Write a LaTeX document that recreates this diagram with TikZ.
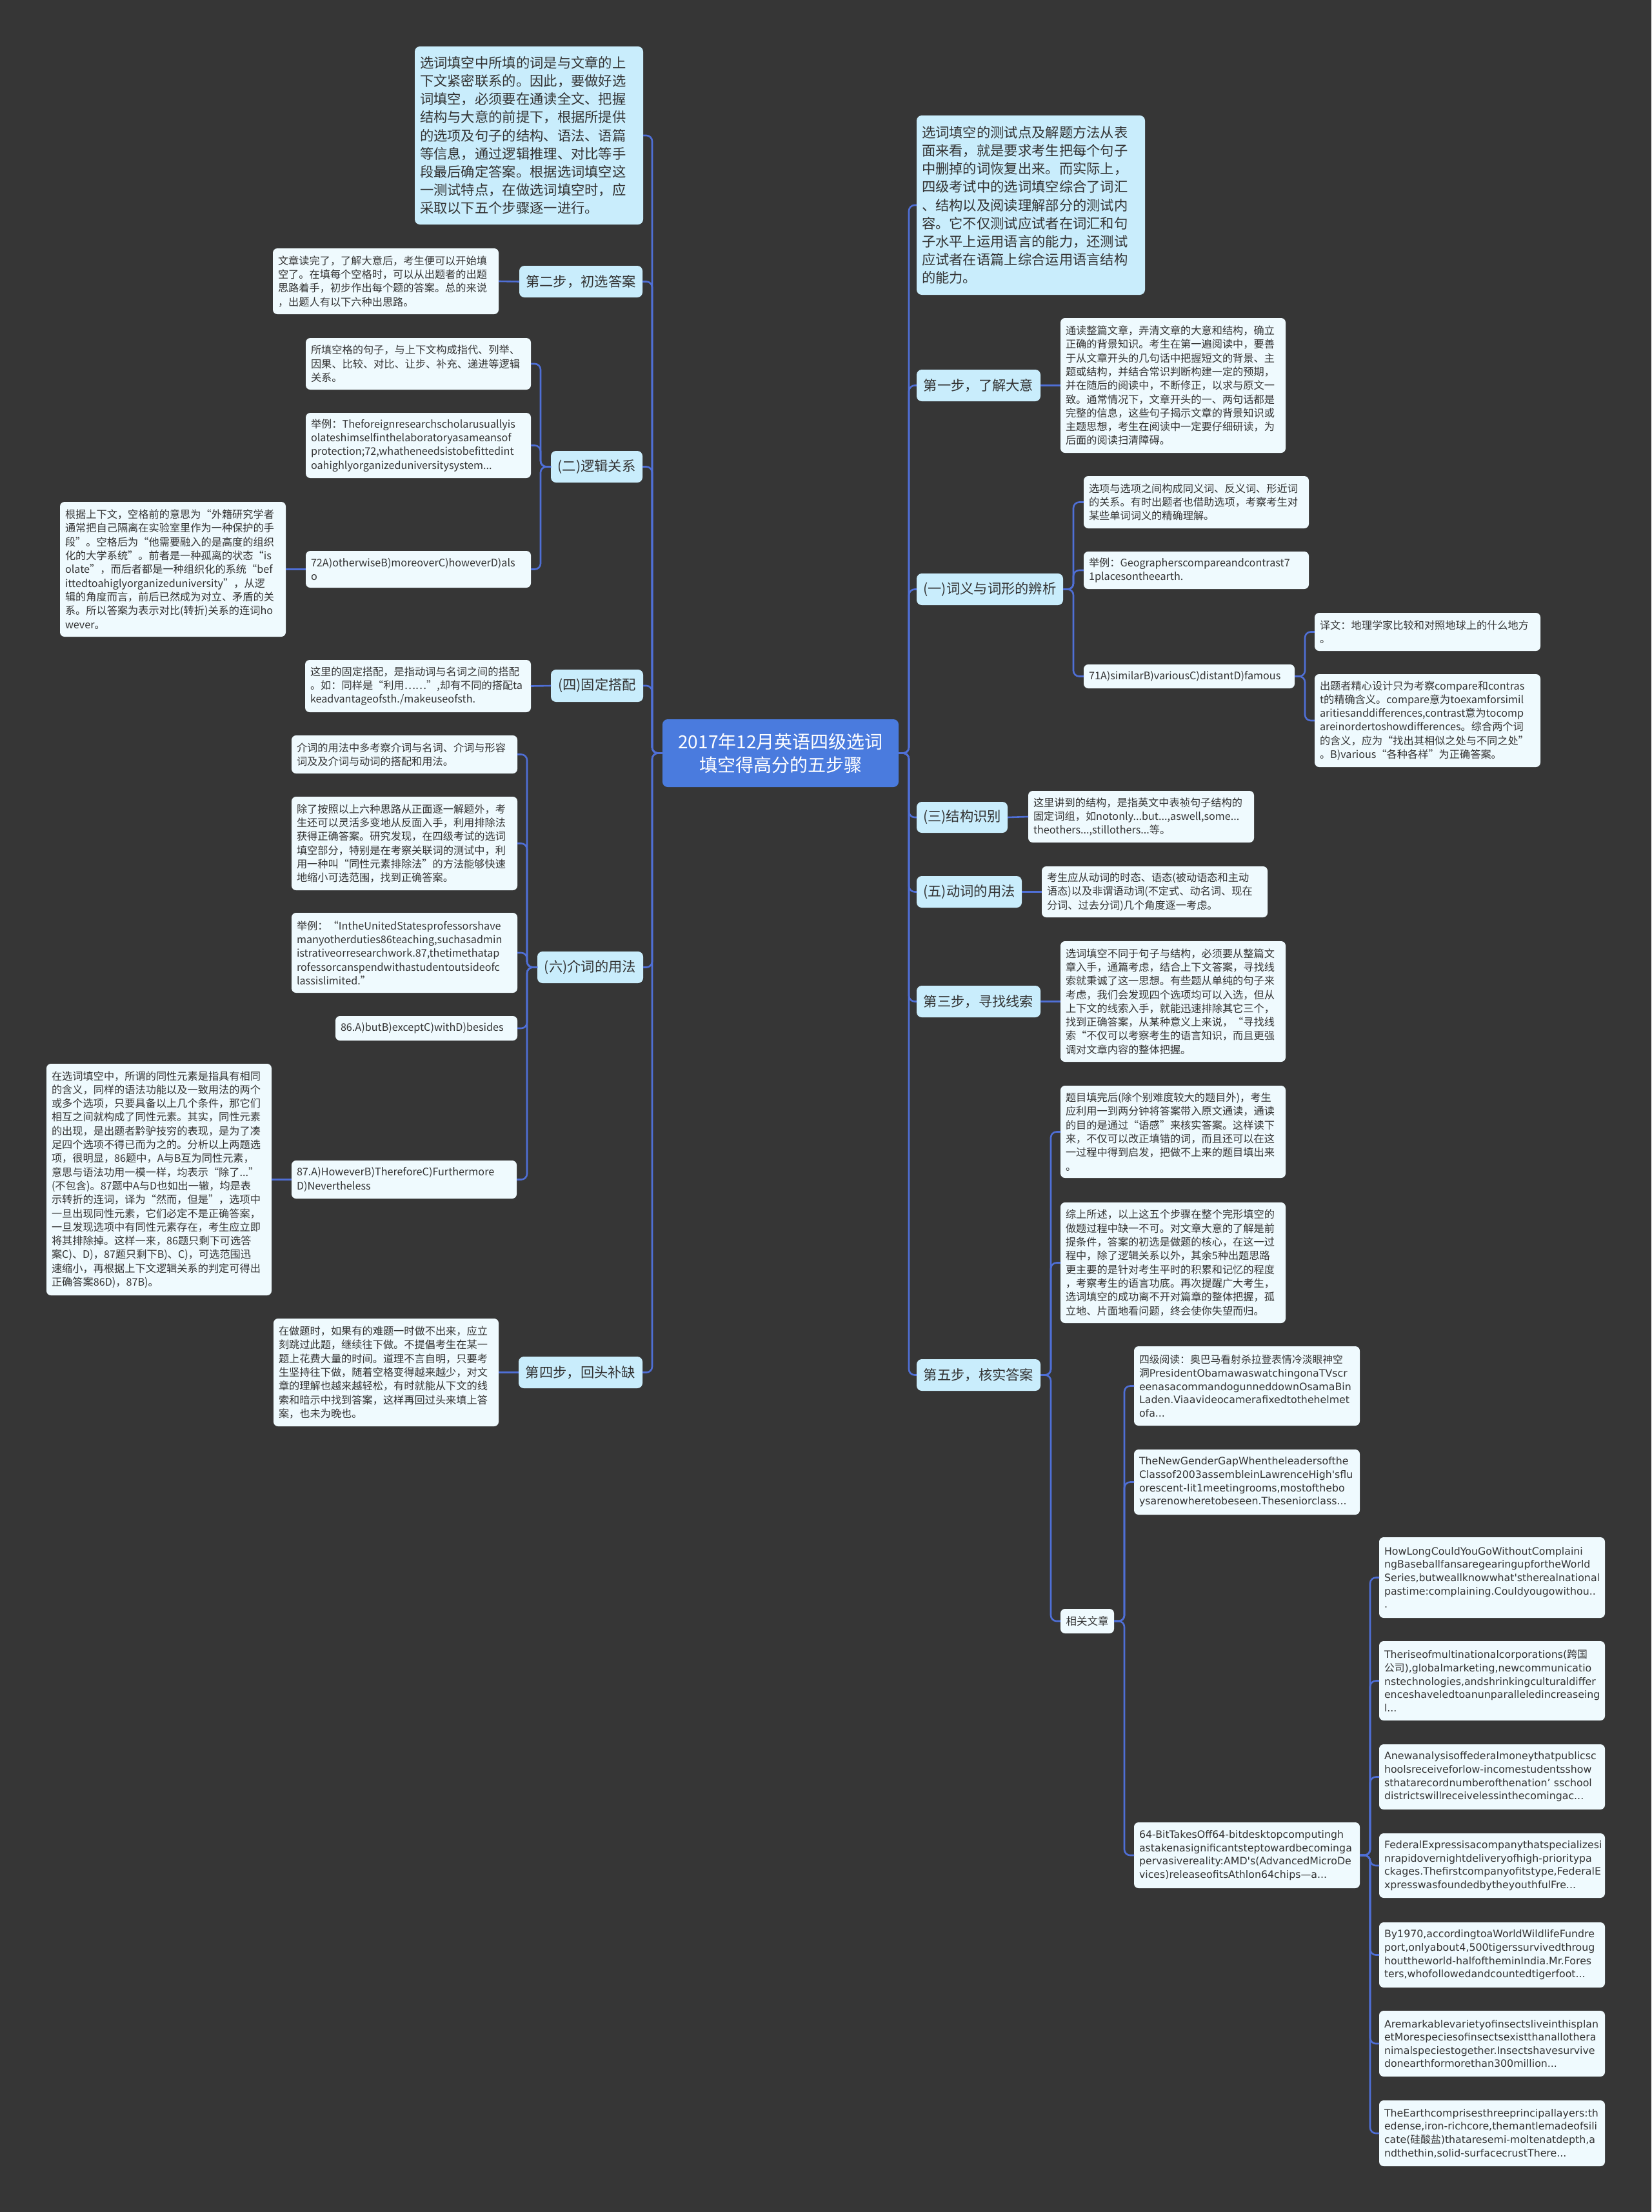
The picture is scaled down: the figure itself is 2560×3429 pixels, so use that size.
\documentclass[tikz,border=0pt]{standalone}
\usepackage{fontspec}
\setmainfont{Noto Sans CJK SC}
\newfontfamily\zh{Noto Sans CJK SC}
\newfontfamily\artf{DejaVu Sans}
\hyphenpenalty=10000 \exhyphenpenalty=10000
\definecolor{bgc}{HTML}{363636}
\definecolor{mainc}{HTML}{C9EDFC}
\definecolor{leafc}{HTML}{EFFAFE}
\definecolor{linec}{HTML}{4F6FD6}
\definecolor{rootc}{HTML}{4A7BDE}
\definecolor{txt}{HTML}{333333}
\newcommand\tb[7]{%
  \pgfmathsetlengthmacro\bxw{#5-#3-16}%
  \pgfmathsetlengthmacro\bxh{#6-#4}%
  \node[#2, text width=\bxw, minimum height=\bxh] (#1) at (#3,#4) {#7};}
\newcommand\cb[7]{%
  \pgfmathsetlengthmacro\bxw{#5-#3}%
  \pgfmathsetlengthmacro\bxh{#6-#4}%
  \node[#2, minimum width=\bxw, minimum height=\bxh] (#1) at (#3,#4) {#7};}
\begin{document}
\begin{tikzpicture}[x=1pt,y=-1pt,
  conn/.style={draw=linec, line width=2.6pt, rounded corners=9pt},
  base/.style={anchor=north west, outer sep=0pt, text=txt},
  mainbox/.style={base, fill=mainc, rounded corners=8pt, inner xsep=4pt, inner ysep=4pt, align=center, font=\fontsize{21.3}{26}\selectfont},
  bigbox/.style={base, fill=mainc, rounded corners=8pt, inner xsep=8pt, inner ysep=6pt, align=left, font=\fontsize{21.3}{28.2}\selectfont},
  leaf/.style={base, fill=leafc, rounded corners=7pt, inner xsep=8pt, inner ysep=5pt, align=left, font=\fontsize{16.2}{21.3}\selectfont},
  leafc/.style={base, fill=leafc, rounded corners=7pt, inner xsep=4pt, inner ysep=4pt, align=center, font=\fontsize{16.5}{21}\selectfont},
  art/.style={leaf, font=\artf\fontsize{15.8}{20.6}\selectfont},
  rootbox/.style={anchor=north west, outer sep=0pt, fill=rootc, rounded corners=8pt, text=white, align=center, font=\fontsize{28}{36}\selectfont}
]
\fill[bgc] (0,0) rectangle (2560,3429);
\useasboundingbox (0,0) rectangle (2560,3429);

% root
\cb{root}{rootbox}{1027}{1115}{1393}{1220}{2017年12月英语四级选词\\填空得高分的五步骤}

% ---------------- left side ----------------
\tb{L0}{bigbox}{643}{72}{997}{348}{选词填空中所填的词是与文章的上\\下文紧密联系的。因此，要做好选\\词填空，必须要在通读全文、把握\\结构与大意的前提下，根据所提供\\的选项及句子的结构、语法、语篇\\等信息，通过逻辑推理、对比等手\\段最后确定答案。根据选词填空这\\一测试特点，在做选词填空时，应\\采取以下五个步骤逐一进行。}

\cb{L1}{mainbox}{805}{412}{996}{461}{第二步，初选答案}
\tb{L1a}{leaf}{423}{385}{773}{487}{文章读完了，了解大意后，考生便可以开始填\\空了。在填每个空格时，可以从出题者的出题\\思路着手，初步作出每个题的答案。总的来说\\，出题人有以下六种出思路。}

\cb{L2}{mainbox}{854}{699}{996}{748}{(二)逻辑关系}
\tb{L2a}{leaf}{474}{524}{823}{604}{所填空格的句子，与上下文构成指代、列举、\\因果、比较、对比、让步、补充、递进等逻辑\\关系。}
\tb{L2b}{leaf}{474}{640}{823}{741}{举例：Theforeignresearchscholarusuallyis\\olateshimselfinthelaboratoryasameansof\\protection;72,whatheneedsistobefittedint\\oahighlyorganizeduniversitysystem...}
\tb{L2c}{leaf}{474}{854}{823}{911}{72A)otherwiseB)moreoverC)howeverD)als\\o}
\tb{L2c1}{leaf}{93}{778}{443}{987}{根据上下文，空格前的意思为“外籍研究学者\\通常把自己隔离在实验室里作为一种保护的手\\段”。空格后为“他需要融入的是高度的组织\\化的大学系统”。前者是一种孤离的状态“is\\olate”，而后者都是一种组织化的系统“bef\\ittedtoahiglyorganizeduniversity”，从逻\\辑的角度而言，前后已然成为对立、矛盾的关\\系。所以答案为表示对比(转折)关系的连词ho\\wever。}

\cb{L3}{mainbox}{854}{1038}{997}{1088}{(四)固定搭配}
\tb{L3a}{leaf}{473}{1023}{823}{1104}{这里的固定搭配，是指动词与名词之间的搭配\\。如：同样是“利用……”,却有不同的搭配ta\\keadvantageofsth./makeuseofsth.}

\cb{L4}{mainbox}{833}{1475}{997}{1524}{(六)介词的用法}
\tb{L4a}{leaf}{452}{1140}{802}{1199}{介词的用法中多考察介词与名词、介词与形容\\词及及介词与动词的搭配和用法。}
\tb{L4b}{leaf}{452}{1235}{802}{1380}{除了按照以上六种思路从正面逐一解题外，考\\生还可以灵活多变地从反面入手，利用排除法\\获得正确答案。研究发现，在四级考试的选词\\填空部分，特别是在考察关联词的测试中，利\\用一种叫“同性元素排除法”的方法能够快速\\地缩小可选范围，找到正确答案。}
\tb{L4c}{leaf}{452}{1415}{802}{1539}{举例：“IntheUnitedStatesprofessorshave\\manyotherduties86teaching,suchasadmin\\istrativeorresearchwork.87,thetimethatap\\rofessorcanspendwithastudentoutsideofc\\lassislimited.”}
\tb{L4d}{leaf}{520}{1575}{802}{1613}{86.A)butB)exceptC)withD)besides}
\tb{L4e}{leaf}{452}{1799}{801}{1858}{87.A)HoweverB)ThereforeC)Furthermore\\D)Nevertheless}
\tb{L4e1}{leaf}{72}{1649}{421}{2008}{在选词填空中，所谓的同性元素是指具有相同\\的含义，同样的语法功能以及一致用法的两个\\或多个选项，只要具备以上几个条件，那它们\\相互之间就构成了同性元素。其实，同性元素\\的出现，是出题者黔驴技穷的表现，是为了凑\\足四个选项不得已而为之的。分析以上两题选\\项，很明显，86题中，A与B互为同性元素，\\意思与语法功用一模一样，均表示“除了...”\\(不包含)。87题中A与D也如出一辙，均是表\\示转折的连词，译为“然而，但是”，选项中\\一旦出现同性元素，它们必定不是正确答案，\\一旦发现选项中有同性元素存在，考生应立即\\将其排除掉。这样一来，86题只剩下可选答\\案C)、D)，87题只剩下B)、C)，可选范围迅\\速缩小，再根据上下文逻辑关系的判定可得出\\正确答案86D)，87B)。}

\cb{L5}{mainbox}{804}{2103}{996}{2152}{第四步，回头补缺}
\tb{L5a}{leaf}{424}{2044}{773}{2211}{在做题时，如果有的难题一时做不出来，应立\\刻跳过此题，继续往下做。不提倡考生在某一\\题上花费大量的时间。道理不言自明，只要考\\生坚持往下做，随着空格变得越来越少，对文\\章的理解也越来越轻松，有时就能从下文的线\\索和暗示中找到答案，这样再回过头来填上答\\案，也未为晚也。}

% ---------------- right side ----------------
\tb{R0}{bigbox}{1421}{179}{1775}{457}{选词填空的测试点及解题方法从表\\面来看，就是要求考生把每个句子\\中删掉的词恢复出来。而实际上，\\四级考试中的选词填空综合了词汇\\、结构以及阅读理解部分的测试内\\容。它不仅测试应试者在词汇和句\\子水平上运用语言的能力，还测试\\应试者在语篇上综合运用语言结构\\的能力。}

\cb{R1}{mainbox}{1421}{573}{1613}{622}{第一步，了解大意}
\tb{R1a}{leaf}{1644}{493}{1993}{702}{通读整篇文章，弄清文章的大意和结构，确立\\正确的背景知识。考生在第一遍阅读中，要善\\于从文章开头的几句话中把握短文的背景、主\\题或结构，并结合常识判断构建一定的预期，\\并在随后的阅读中，不断修正，以求与原文一\\致。通常情况下，文章开头的一、两句话都是\\完整的信息，这些句子揭示文章的背景知识或\\主题思想，考生在阅读中一定要仔细研读，为\\后面的阅读扫清障碍。}

\cb{R2}{mainbox}{1421}{889}{1648}{938}{(一)词义与词形的辨析}
\tb{R2a}{leaf}{1680}{738}{2029}{819}{选项与选项之间构成同义词、反义词、形近词\\的关系。有时出题者也借助选项，考察考生对\\某些单词词义的精确理解。}
\tb{R2b}{leaf}{1680}{855}{2029}{913}{举例：Geographerscompareandcontrast7\\1placesontheearth.}
\tb{R2c}{leaf}{1680}{1030}{2007}{1067}{71A)similarB)variousC)distantD)famous}
\tb{R2c1}{leaf}{2038}{950}{2388}{1009}{译文：地理学家比较和对照地球上的什么地方\\。}
\tb{R2c2}{leaf}{2038}{1045}{2388}{1189}{出题者精心设计只为考察compare和contras\\t的精确含义。compare意为toexamforsimil\\aritiesanddifferences,contrast意为tocomp\\areinordertoshowdifferences。综合两个词\\的含义，应为“找出其相似之处与不同之处”\\。B)various“各种各样”为正确答案。}

\cb{R3}{mainbox}{1421}{1243}{1562}{1291}{(三)结构识别}
\tb{R3a}{leaf}{1594}{1226}{1944}{1306}{这里讲到的结构，是指英文中表祯句子结构的\\固定词组，如notonly...but...,aswell,some...\\theothers...,stillothers...等。}

\cb{R4}{mainbox}{1421}{1358}{1584}{1407}{(五)动词的用法}
\tb{R4a}{leaf}{1615}{1343}{1965}{1422}{考生应从动词的时态、语态(被动语态和主动\\语态)以及非谓语动词(不定式、动名词、现在\\分词、过去分词)几个角度逐一考虑。}

\cb{R5}{mainbox}{1421}{1528}{1613}{1577}{第三步，寻找线索}
\tb{R5a}{leaf}{1644}{1459}{1993}{1646}{选词填空不同于句子与结构，必须要从整篇文\\章入手，通篇考虑，结合上下文答案，寻找线\\索就秉诚了这一思想。有些题从单纯的句子来\\考虑，我们会发现四个选项均可以入选，但从\\上下文的线索入手，就能迅速排除其它三个，\\找到正确答案，从某种意义上来说，“寻找线\\索“不仅可以考察考生的语言知识，而且更强\\调对文章内容的整体把握。}

\cb{R6}{mainbox}{1421}{2107}{1613}{2156}{第五步，核实答案}
\tb{R6a}{leaf}{1644}{1683}{1993}{1826}{题目填完后(除个别难度较大的题目外)，考生\\应利用一到两分钟将答案带入原文通读，通读\\的目的是通过“语感”来核实答案。这样读下\\来，不仅可以改正填错的词，而且还可以在这\\一过程中得到启发，把做不上来的题目填出来\\。}
\tb{R6b}{leaf}{1644}{1864}{1993}{2051}{综上所述，以上这五个步骤在整个完形填空的\\做题过程中缺一不可。对文章大意的了解是前\\提条件，答案的初选是做题的核心，在这一过\\程中，除了逻辑关系以外，其余5种出题思路\\更主要的是针对考生平时的积累和记忆的程度\\，考察考生的语言功底。再次提醒广大考生，\\选词填空的成功离不开对篇章的整体把握，孤\\立地、片面地看问题，终会使你失望而归。}
\cb{R6c}{leafc}{1644}{2494}{1727}{2532}{相关文章}

\tb{A1}{art}{1758}{2087}{2108}{2210}{{\zh 四级阅读：奥巴马看射杀拉登表情冷淡眼神空}\\{\zh 洞}PresidentObamawaswatchingonaTVscr\\eenasacommandogunneddownOsamaBin\\Laden.Viaavideocamerafixedtothehelmet\\ofa...}
\tb{A2}{art}{1758}{2247}{2108}{2348}{TheNewGenderGapWhentheleadersofthe\\Classof2003assembleinLawrenceHigh'sflu\\orescent-lit1meetingrooms,mostofthebo\\ysarenowheretobeseen.Theseniorclass...}
\tb{A3}{art}{1758}{2825}{2108}{2927}{64-BitTakesOff64-bitdesktopcomputingh\\astakenasignificantsteptowardbecominga\\pervasivereality:AMD's(AdvancedMicroDe\\vices)releaseofitsAthlon64chips—a...}

\tb{B1}{art}{2138}{2383}{2488}{2508}{HowLongCouldYouGoWithoutComplaini\\ngBaseballfansaregearingupfortheWorld\\Series,butweallknowwhat'stherealnational\\pastime:complaining.Couldyougowithou..\\.}
\tb{B2}{art}{2138}{2544}{2488}{2667}{Theriseofmultinationalcorporations({\zh 跨国}\\{\zh 公司}),globalmarketing,newcommunicatio\\nstechnologies,andshrinkingculturaldiffer\\enceshaveledtoanunparalleledincreaseing\\l...}
\tb{B3}{art}{2138}{2704}{2488}{2805}{Anewanalysisoffederalmoneythatpublicsc\\hoolsreceiveforlow-incomestudentsshow\\sthatarecordnumberofthenation’ sschool\\districtswillreceivelessinthecomingac...}
\tb{B4}{art}{2138}{2842}{2488}{2942}{FederalExpressisacompanythatspecializesi\\nrapidovernightdeliveryofhigh-prioritypa\\ckages.Thefirstcompanyofitstype,FederalE\\xpresswasfoundedbytheyouthfulFre...}
\tb{B5}{art}{2138}{2980}{2488}{3081}{By1970,accordingtoaWorldWildlifeFundre\\port,onlyabout4,500tigerssurvivedthroug\\houttheworld-halfoftheminIndia.Mr.Fores\\ters,whofollowedandcountedtigerfoot...}
\tb{B6}{art}{2138}{3117}{2488}{3219}{Aremarkablevarietyofinsectsliveinthisplan\\etMorespeciesofinsectsexistthanallothera\\nimalspeciestogether.Insectshavesurvive\\donearthformorethan300million...}
\tb{B7}{art}{2138}{3256}{2488}{3358}{TheEarthcomprisesthreeprincipallayers:th\\edense,iron-richcore,themantlemadeofsili\\cate({\zh 硅酸盐})thataresemi-moltenatdepth,a\\ndthethin,solid-surfacecrustThere...}

% ---------------- connectors ----------------
\foreach \c in {L0,L1,L2,L3,L4,L5}
  \draw[conn] (root.west) -- ++(-16,0) |- (\c.east);
\foreach \c in {R0,R1,R2,R3,R4,R5,R6}
  \draw[conn] (root.east) -- ++(16,0) |- (\c.west);
\draw[conn] (L1.west) -- (L1a.east);
\foreach \c in {L2a,L2b,L2c}
  \draw[conn] (L2.west) -- ++(-16,0) |- (\c.east);
\draw[conn] (L2c.west) -- (L2c1.east);
\draw[conn] (L3.west) -- (L3a.east);
\foreach \c in {L4a,L4b,L4c,L4d,L4e}
  \draw[conn] (L4.west) -- ++(-16,0) |- (\c.east);
\draw[conn] (L4e.west) -- (L4e1.east);
\draw[conn] (L5.west) -- (L5a.east);

\draw[conn] (R1.east) -- (R1a.west);
\foreach \c in {R2a,R2b,R2c}
  \draw[conn] (R2.east) -- ++(16,0) |- (\c.west);
\foreach \c in {R2c1,R2c2}
  \draw[conn] (R2c.east) -- ++(16,0) |- (\c.west);
\draw[conn] (R3.east) -- (R3a.west);
\draw[conn] (R4.east) -- (R4a.west);
\draw[conn] (R5.east) -- (R5a.west);
\foreach \c in {R6a,R6b,R6c}
  \draw[conn] (R6.east) -- ++(16,0) |- (\c.west);
\foreach \c in {A1,A2,A3}
  \draw[conn] (R6c.east) -- ++(16,0) |- (\c.west);
\foreach \c in {B1,B2,B3,B4,B5,B6,B7}
  \draw[conn] (A3.east) -- ++(16,0) |- (\c.west);
\end{tikzpicture}
\end{document}
